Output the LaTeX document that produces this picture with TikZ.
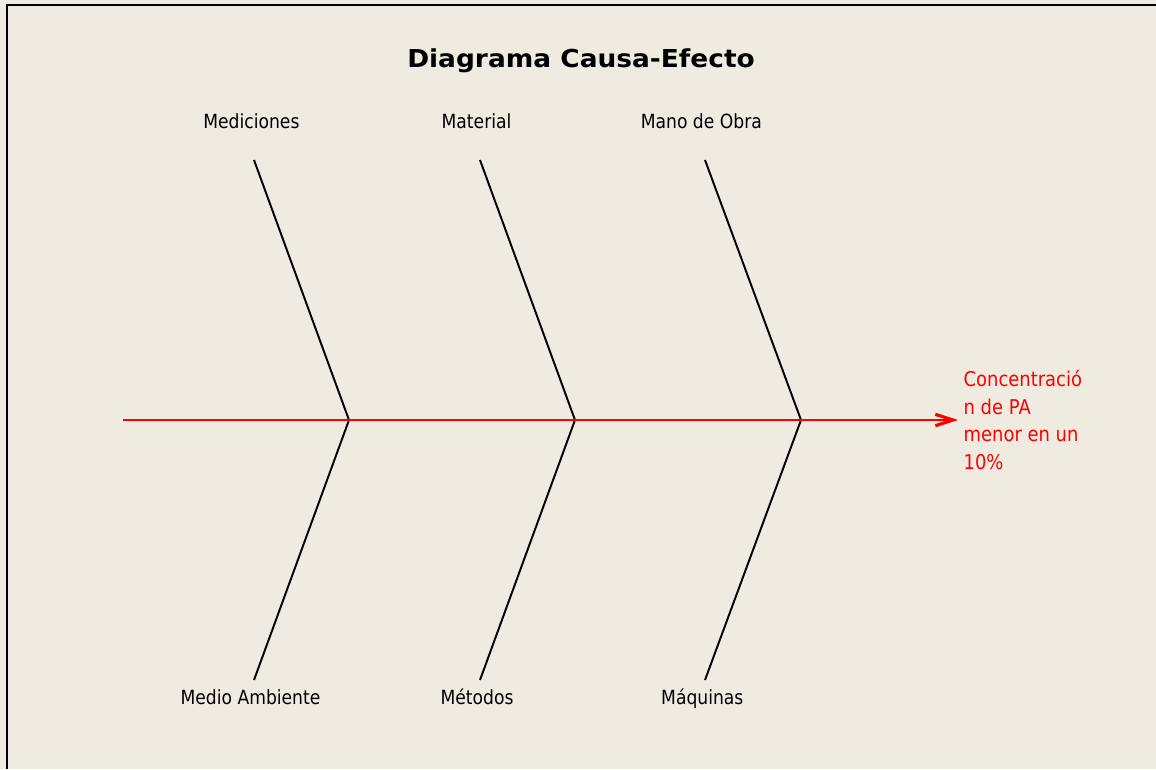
\documentclass[tikz,border=0pt]{standalone}
\usepackage{fontspec}
\setmainfont{DejaVu Sans}[FakeStretch=0.88]
\newfontfamily\titlefont{DejaVu Sans}[FakeStretch=1.07]
\usepackage{tikz}
\usetikzlibrary{arrows.meta,positioning}
\definecolor{bgcream}{RGB}{239,235,225}
\definecolor{spinered}{RGB}{255,0,0}

\tikzset{
  bone/.style={line width=1.1pt, black},
  spine/.style={line width=1.1pt, spinered, -{Straight Barb[length=10pt,width=6.5pt,line width=1.8pt]}},
  causelabel/.style={anchor=base, inner sep=0pt, font=\fontsize{11.1}{13}\selectfont},
  effectlabel/.style={anchor=base west, inner sep=0pt, align=left, text=spinered,
    font=\fontsize{11.6}{15.65}\selectfont}
}

\begin{document}
\begin{tikzpicture}[x=0.02cm, y=-0.02cm]
  % page and frame
  \useasboundingbox (0,0) rectangle (1156,769);
  \fill[bgcream] (0,0) rectangle (1156,769);
  \draw[line width=1.2pt] (7,769) -- (7,5.3) -- (1156,5.3);

  % title
  \node[anchor=base, inner sep=0pt, font=\titlefont\bfseries\fontsize{14.05}{16}\selectfont] (title) at (581,67.3) {Diagrama Causa-Efecto};

  % spine of the fish
  \coordinate (tail) at (123,420);
  \coordinate (head) at (958,420);
  \coordinate (j1) at (349,420);
  \coordinate (j2) at (575,420);
  \coordinate (j3) at (801,420);

  % bone ends
  \coordinate (t1) at (254,160);
  \coordinate (t2) at (480,160);
  \coordinate (t3) at (705,160);
  \coordinate (b1) at (254,680);
  \coordinate (b2) at (480,680);
  \coordinate (b3) at (705,680);

  % causes, top
  \node[causelabel] (mediciones) at (251.4,128.3) {Mediciones};
  \node[causelabel] (material) at (476.5,128.3) {Material};
  \node[causelabel] (manoobra) at (701.3,128.3) {Mano de Obra};

  % causes, bottom
  \node[causelabel] (medioamb) at (250.5,704.3) {Medio Ambiente};
  \node[causelabel] (metodos) at (477,704.3) {Métodos};
  \node[causelabel] (maquinas) at (702.3,704.3) {Máquinas};

  % bones
  \draw[bone] (t1) -- (j1) -- (b1);
  \draw[bone] (t2) -- (j2) -- (b2);
  \draw[bone] (t3) -- (j3) -- (b3);

  \draw[spine] (tail) -- (head);

  % effect (base = last line)
  \node[effectlabel] (efecto) at (963.3,469.3) {Concentració\\n de PA\\menor en un\\10\%};
\end{tikzpicture}
\end{document}
